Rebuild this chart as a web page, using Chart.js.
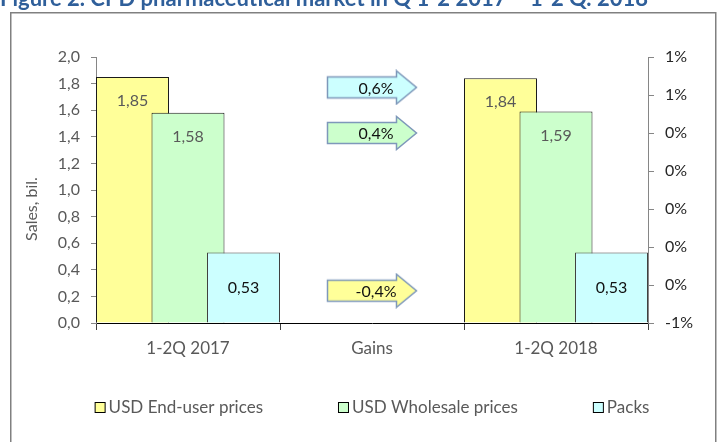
<!DOCTYPE html>
<html>
<head>
<meta charset="utf-8">
<script src="https://cdn.jsdelivr.net/npm/chart.js@4.4.1/dist/chart.umd.min.js"></script>
<style>
  html, body { margin: 0; padding: 0; background: #ffffff; }
  #wrap { position: relative; width: 724px; height: 442px; overflow: hidden; }
  canvas { display: block; }
</style>
</head>
<body>
<div id="wrap"><canvas id="c" width="724" height="442"></canvas></div>
<script>
// ---- data ----
const titleText = 'Figure 2. CPD pharmaceutical market in Q 1-2 2017 \u2013 1-2 Q. 2018';
const categories = ['1-2Q 2017', 'Gains', '1-2Q 2018'];
const seriesNames = ['USD End-user prices', 'USD Wholesale prices', 'Packs'];
const endUserValues = [1.85, null, 1.84];
const wholesaleValues = [1.58, null, 1.59];
const packsValues = [0.53, null, 0.53];
const gainSeries = ['USD End-user prices', 'USD Wholesale prices', 'Packs'];
const gainValues = [-0.0043, 0.0040, 0.0064];
const yTitle = 'Sales, bil.';

const FONT = 'Lato, "Open Sans", sans-serif';
const colors = {
  'USD End-user prices': '#FFFF99',
  'USD Wholesale prices': '#CCFFCC',
  'Packs': '#CCFFFF'
};

function fmtComma(v, d) { return v.toFixed(d).replace('.', ','); }
function fmtPct0(v) { let r = Math.round(v * 100); if (r === 0) r = 0; return r + '%'; }
function fmtPct1(v) { return (v * 100).toFixed(1).replace('.', ',') + '%'; }

function makeArrow(fill) {
  const c = document.createElement('canvas');
  c.width = 92; c.height = 36;
  const g = c.getContext('2d');
  g.beginPath();
  g.moveTo(1.5, 7.5);
  g.lineTo(70.5, 7.5);
  g.lineTo(70.5, 1.5);
  g.lineTo(90.5, 18);
  g.lineTo(70.5, 34.5);
  g.lineTo(70.5, 28.5);
  g.lineTo(1.5, 28.5);
  g.closePath();
  g.fillStyle = fill;
  g.fill();
  g.strokeStyle = '#7E98BA';
  g.lineWidth = 1.5;
  g.stroke();
  return c;
}
const arrowImgs = gainSeries.map(s => makeArrow(colors[s]));

const drawPlugin = {
  id: 'custom',
  beforeDraw(chart) {
    const ctx = chart.ctx;
    ctx.save();
    ctx.fillStyle = '#fff';
    ctx.fillRect(0, 0, chart.width, chart.height);
    // frame
    ctx.strokeStyle = '#808080';
    ctx.lineWidth = 1.5;
    ctx.strokeRect(10.75, 12.75, 705, 460);
    // title (clipped at top)
    ctx.fillStyle = '#2F5F9A';
    ctx.font = 'bold 22px ' + FONT;
    ctx.textBaseline = 'alphabetic';
    ctx.textAlign = 'left';
    ctx.fillText(titleText, 0, 6);
    ctx.restore();
  },
  beforeDatasetsDraw(chart) {
    // draw later series on top of earlier ones (overlapping bars)
    for (let i = 0; i < chart.data.datasets.length; i++) {
      const m = chart.getDatasetMeta(i);
      if (!m.hidden) m.controller.draw();
    }
    return false;
  },
  afterDraw(chart) {
    const ctx = chart.ctx;
    const ca = chart.chartArea;
    ctx.save();
    // bar value labels
    ctx.font = '16px ' + FONT;
    ctx.textAlign = 'center';
    ctx.textBaseline = 'middle';
    for (let i = 0; i < 3; i++) {
      const meta = chart.getDatasetMeta(i);
      meta.data.forEach((el, j) => {
        const v = chart.data.datasets[i].data[j];
        if (v === null || v === undefined) return;
        let y;
        if (i === 2) { y = (el.y + el.base) / 2; ctx.fillStyle = '#111'; }
        else { y = el.y + 24; ctx.fillStyle = '#595959'; }
        ctx.fillText(fmtComma(v, 2), el.x, y);
      });
    }
    // gain labels inside arrows
    const am = chart.getDatasetMeta(3);
    ctx.fillStyle = '#111';
    am.data.forEach((el, j) => {
      ctx.fillText(fmtPct1(gainValues[j]), el.x + 4, el.y + 1);
    });
    // y axis title
    ctx.save();
    ctx.translate(32, (ca.top + ca.bottom) / 2 + 19);
    ctx.rotate(-Math.PI / 2);
    ctx.fillStyle = '#595959';
    ctx.font = '16px ' + FONT;
    ctx.fillText(yTitle, 0, 0);
    ctx.restore();
    // legend
    ctx.font = '17px ' + FONT;
    ctx.textAlign = 'left';
    ctx.textBaseline = 'middle';
    const items = seriesNames.map(n => ({ n, w: 14 + ctx.measureText(n).width }));
    const gap = 75;
    const total = items.reduce((a, b) => a + b.w, 0) + gap * (items.length - 1);
    let x = (ca.left + ca.right) / 2 - total / 2;
    const ly = 408;
    items.forEach(it => {
      ctx.fillStyle = colors[it.n];
      ctx.fillRect(x + 0.5, ly - 5.5, 10, 10);
      ctx.strokeStyle = '#000';
      ctx.lineWidth = 1;
      ctx.strokeRect(x + 0.5, ly - 5.5, 10, 10);
      ctx.fillStyle = '#595959';
      ctx.fillText(it.n, x + 14, ly);
      x += it.w + gap;
    });
    ctx.restore();
  }
};

const barCommon = {
  type: 'bar',
  yAxisID: 'y',
  borderWidth: 1,
  borderSkipped: 'start',
  categoryPercentage: 0.905,
  barPercentage: 1.315
};

new Chart(document.getElementById('c'), {
  data: {
    labels: categories,
    datasets: [
      Object.assign({}, barCommon, { label: seriesNames[0], data: endUserValues, backgroundColor: colors[seriesNames[0]], borderColor: '#1a1a1a' }),
      Object.assign({}, barCommon, { label: seriesNames[1], data: wholesaleValues, backgroundColor: colors[seriesNames[1]], borderColor: '#1a1a1a' }),
      Object.assign({}, barCommon, { label: seriesNames[2], data: packsValues, backgroundColor: colors[seriesNames[2]], borderColor: '#404040' }),
      {
        type: 'line',
        label: 'Gains',
        yAxisID: 'yR',
        showLine: false,
        data: gainValues.map(v => ({ x: categories[1], y: v })),
        pointStyle: arrowImgs,
        pointRadius: 10,
        pointHoverRadius: 10
      }
    ]
  },
  options: {
    responsive: false,
    devicePixelRatio: 1,
    animation: false,
    events: [],
    layout: { padding: { left: 20, right: 0, top: 57, bottom: 0 } },
    plugins: { legend: { display: false }, title: { display: false }, tooltip: { enabled: false } },
    scales: {
      x: {
        type: 'category',
        offset: true,
        grid: { offset: true, drawOnChartArea: false, drawTicks: true, tickLength: 7, color: '#404040' },
        border: { color: '#000', width: 1 },
        ticks: { color: '#595959', font: { family: FONT, size: 17 }, padding: 8, maxRotation: 0 },
        afterFit(s) { s.height = 119; }
      },
      y: {
        position: 'left',
        min: 0, max: 2.0,
        ticks: { stepSize: 0.2, color: '#595959', font: { family: FONT, size: 16 }, padding: 11,
                 callback: v => fmtComma(v, 1) },
        grid: { drawOnChartArea: false, drawTicks: true, tickLength: 5, color: '#868686' },
        border: { color: '#868686', width: 1 },
        afterFit(s) { s.width = 76; }
      },
      yR: {
        position: 'right',
        min: -0.006, max: 0.008,
        ticks: { stepSize: 0.002, color: '#262626', font: { family: FONT, size: 16 }, padding: 11,
                 callback: v => fmtPct0(v) },
        grid: { drawOnChartArea: false, drawTicks: true, tickLength: 6, color: '#868686' },
        border: { color: '#868686', width: 1 },
        afterFit(s) { s.width = 76; }
      }
    }
  },
  plugins: [drawPlugin]
});
</script>
</body>
</html>
